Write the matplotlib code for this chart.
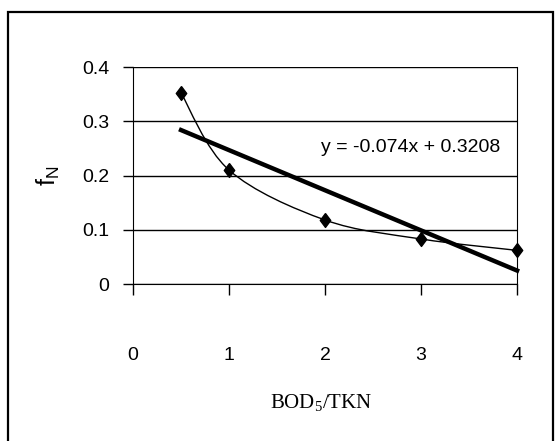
import matplotlib.pyplot as plt
from matplotlib.path import Path
from matplotlib.patches import PathPatch, Rectangle

# data
bod_tkn = [0.5, 1, 2, 3, 4]
f_n = [0.352, 0.21, 0.118, 0.083, 0.062]
slope, intercept = -0.074, 0.3208
x_ticks = [0, 1, 2, 3, 4]
y_ticks = [0, 0.1, 0.2, 0.3, 0.4]

plt.rcParams['font.family'] = ['Liberation Sans', 'DejaVu Sans']

fig = plt.figure(figsize=(5.59, 4.41), dpi=100)
ax = fig.add_axes([0.238, 0.356, 0.687, 0.492])

# outer chart border
fig.patches.append(Rectangle((8 / 559, -0.05), 545 / 559, 1.05 - 12 / 441,
                             transform=fig.transFigure, fill=False,
                             edgecolor='black', linewidth=1.6))

# smoothed line (Excel style bezier through the points)
verts = [(bod_tkn[0], f_n[0])]
codes = [Path.MOVETO]
n = len(bod_tkn)
for i in range(n - 1):
    x0, y0 = bod_tkn[max(i - 1, 0)], f_n[max(i - 1, 0)]
    x1, y1 = bod_tkn[i], f_n[i]
    x2, y2 = bod_tkn[i + 1], f_n[i + 1]
    x3, y3 = bod_tkn[min(i + 2, n - 1)], f_n[min(i + 2, n - 1)]
    c1 = (x1 + (x2 - x0) / 6, y1 + (y2 - y0) / 6)
    c2 = (x2 - (x3 - x1) / 6, y2 - (y3 - y1) / 6)
    verts += [c1, c2, (x2, y2)]
    codes += [Path.CURVE4] * 3
ax.add_patch(PathPatch(Path(verts, codes), facecolor='none', edgecolor='black', lw=1.0))

diamond = [(0, 1), (0.75, 0), (0, -1), (-0.75, 0), (0, 1)]
ax.plot(bod_tkn, f_n, linestyle='none', marker=diamond, markersize=10,
        color='black', zorder=5, clip_on=False)

# linear trendline
tx = [bod_tkn[0], bod_tkn[-1]]
ax.plot(tx, [slope * v + intercept for v in tx], color='black', lw=3.2, zorder=4,
        clip_on=False)
ax.text(2.89, 0.251, 'y = -0.074x + 0.3208', fontsize=14, ha='center', va='center')

ax.set_xlim(0, 4)
ax.set_ylim(0, 0.4)
ax.set_xticks(x_ticks)
ax.set_yticks(y_ticks)
ax.set_yticklabels(['0', '0.1', '0.2', '0.3', '0.4'])
ax.grid(axis='y', color='black', lw=1)
ax.spines['top'].set_visible(False)
ax.tick_params(axis='y', direction='out', length=7, width=1, pad=10, labelsize=14)
ax.tick_params(axis='x', direction='out', length=8, width=1, pad=37, labelsize=14)

ax.set_ylabel('f$_\\mathregular{N}$', fontsize=18)
ax.yaxis.set_label_coords(-0.185, 0.5)
ax.set_xlabel('BOD$_\\mathregular{5}$/TKN', fontsize=15, family='Liberation Serif')
ax.xaxis.set_label_coords(0.49, -0.50)

fig.savefig('out.png', dpi=100)
